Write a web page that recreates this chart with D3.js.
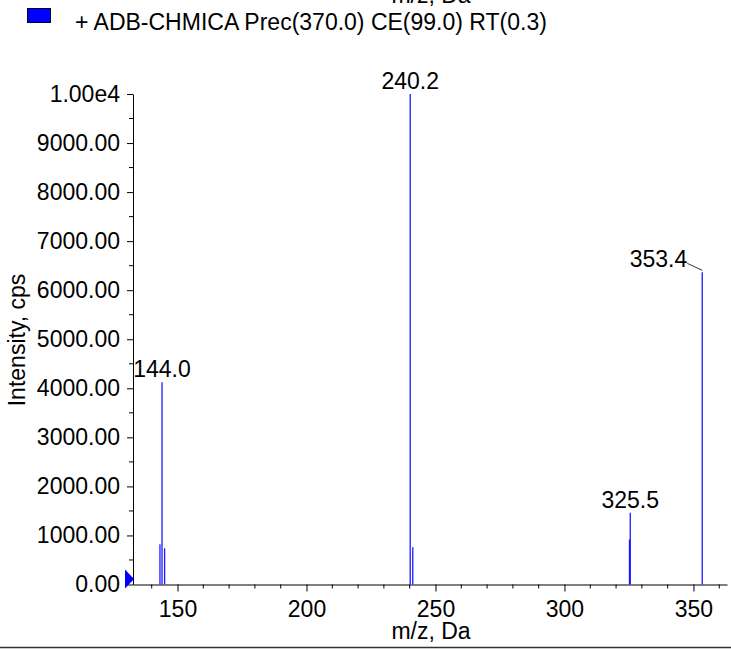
<!DOCTYPE html>
<html>
<head>
<meta charset="utf-8">
<script src="https://cdn.jsdelivr.net/npm/d3@7"></script>
<style>
  body { margin: 0; background: #fff; }
  svg text { font-family: "Liberation Sans", Arial, sans-serif; fill: #000; }
</style>
</head>
<body>
<div id="chart"></div>
<script>
// peak list
var peakMz = [143.2, 144.0, 145.0, 240.2, 241.2, 325.2, 325.5, 353.4];
var peakIntensity = [820, 4122, 738, 10000, 758, 920, 1464, 6365];
var labelledMz = [144.0, 240.2, 325.5, 353.4];
var xTicks = [150, 200, 250, 300, 350];
var yTicks = [0, 1000, 2000, 3000, 4000, 5000, 6000, 7000, 8000, 9000, 10000];
var legendText = "+ ADB-CHMICA Prec(370.0) CE(99.0) RT(0.3)";

var W = 731, H = 651;
var plot = {left: 133, right: 727, top: 94, bottom: 584.5};
var fontSize = 23;

var svg = d3.select("#chart").append("svg")
    .attr("width", W)
    .attr("height", H);

var x = d3.scaleLinear().domain([132.75, 363]).range([plot.left, plot.right]);
var y = d3.scaleLinear().domain([0, 10000]).range([plot.bottom, plot.top]);

// leftover title of the panel above (cut off at the top edge)
svg.append("text")
    .attr("x", 431).attr("y", 3)
    .attr("text-anchor", "middle")
    .style("font-size", fontSize + "px")
    .text("m/z, Da");

// legend
svg.append("rect")
    .attr("x", 27.5).attr("y", 8.5)
    .attr("width", 23).attr("height", 14)
    .attr("fill", "#0000ff")
    .attr("stroke", "#000033").attr("stroke-width", 1);
svg.append("text")
    .attr("x", 75).attr("y", 30)
    .style("font-size", fontSize + "px")
    .text(legendText);

// minor ticks
var xMinor = d3.range(140, 361, 10).filter(function (d) { return xTicks.indexOf(d) < 0; });
svg.append("g").selectAll("line").data(xMinor).enter().append("line")
    .attr("x1", function (d) { return x(d); }).attr("x2", function (d) { return x(d); })
    .attr("y1", plot.bottom).attr("y2", plot.bottom + 4)
    .attr("stroke", "#000");
var yMinor = d3.range(500, 10000, 1000);
svg.append("g").selectAll("line").data(yMinor).enter().append("line")
    .attr("x1", plot.left - 4).attr("x2", plot.left)
    .attr("y1", function (d) { return y(d); }).attr("y2", function (d) { return y(d); })
    .attr("stroke", "#000");

// axes
var xAxis = svg.append("g")
    .attr("transform", "translate(0," + plot.bottom + ")")
    .call(d3.axisBottom(x).tickValues(xTicks).tickSize(7).tickSizeOuter(0).tickFormat(d3.format("d")));
var yAxis = svg.append("g")
    .attr("transform", "translate(" + plot.left + ",0)")
    .call(d3.axisLeft(y).tickValues(yTicks).tickSize(6).tickSizeOuter(0)
        .tickFormat(function (d) { return d === 10000 ? "1.00e4" : d3.format(".2f")(d); }));

[xAxis, yAxis].forEach(function (g) {
    g.select(".domain").attr("stroke", "#000");
    g.selectAll(".tick line").attr("stroke", "#000");
    g.selectAll(".tick text")
        .style("font-size", fontSize + "px")
        .style("font-family", "Liberation Sans, Arial, sans-serif")
        .attr("fill", "#000");
});
xAxis.selectAll(".tick text").attr("y", 16);
yAxis.selectAll(".tick text").attr("x", -13);

// axis titles
svg.append("text")
    .attr("x", 431).attr("y", 639)
    .attr("text-anchor", "middle")
    .style("font-size", fontSize + "px")
    .text("m/z, Da");
svg.append("text")
    .attr("transform", "translate(25,340) rotate(-90)")
    .attr("text-anchor", "middle")
    .style("font-size", fontSize + "px")
    .text("Intensity, cps");

// peaks
var peaks = peakMz.map(function (m, i) { return {mz: m, v: peakIntensity[i]}; });
svg.append("g").selectAll("line").data(peaks).enter().append("line")
    .attr("x1", function (d) { return x(d.mz); }).attr("x2", function (d) { return x(d.mz); })
    .attr("y1", plot.bottom).attr("y2", function (d) { return y(d.v); })
    .attr("stroke", "#1a1aff").attr("stroke-width", 1.3);

// peak labels
peaks.filter(function (d) { return labelledMz.indexOf(d.mz) >= 0; }).forEach(function (d) {
    var px = x(d.mz), py = y(d.v);
    if (d.mz === 353.4) {
        // no room on the right: label shifted left with a leader line
        svg.append("text")
            .attr("x", px - 15).attr("y", py - 5)
            .attr("text-anchor", "end")
            .style("font-size", fontSize + "px")
            .text(d3.format(".1f")(d.mz));
        svg.append("line")
            .attr("x1", px - 15).attr("y1", py - 9)
            .attr("x2", px).attr("y2", py - 2)
            .attr("stroke", "#000").attr("stroke-width", 0.8);
    } else {
        svg.append("text")
            .attr("x", px).attr("y", py - 5)
            .attr("text-anchor", "middle")
            .style("font-size", fontSize + "px")
            .text(d3.format(".1f")(d.mz));
    }
});

// blue marker at the origin
svg.append("path")
    .attr("d", "M" + (plot.left - 8) + "," + (y(0) - 15) + "L" + (plot.left + 1) + "," + (y(0) - 5.5) +
        "L" + (plot.left - 8) + "," + (y(0) + 4) + "Z")
    .attr("fill", "#0000ff");

// frame line at the bottom
svg.append("line")
    .attr("x1", 0).attr("x2", W)
    .attr("y1", 647.5).attr("y2", 647.5)
    .attr("stroke", "#333").attr("stroke-width", 1.5);
</script>
</body>
</html>
